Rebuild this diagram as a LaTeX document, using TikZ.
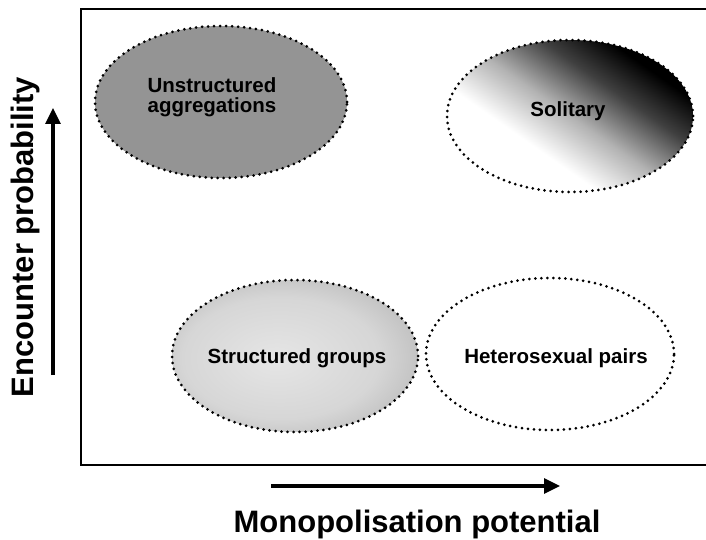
\documentclass[tikz,border=0pt]{standalone}
\usepackage{fontspec}
\setmainfont{Liberation Sans}
\usetikzlibrary{shapes.geometric,arrows.meta}
\pgfdeclarehorizontalshading{solshade}{100bp}{color(0bp)=(white); color(38bp)=(white); color(50bp)=(black!30); color(62bp)=(black!75); color(72bp)=(black); color(100bp)=(black)}
\pgfdeclareradialshading{sgshade}{\pgfpoint{-4bp}{-1bp}}{color(0bp)=(black!10); color(20bp)=(black!16); color(30bp)=(black!26); color(40bp)=(black!45); color(50bp)=(black!62); color(70bp)=(black!65)}
\tikzset{
  blob/.style={ellipse, inner sep=0pt, minimum width=246pt, minimum height=152pt,
    draw=black, line width=3pt, dash pattern=on 0pt off 6pt, line cap=round},
  blobtext/.style={font=\bfseries\fontsize{20.5}{20}\selectfont, inner sep=0pt, align=center},
  axisline/.style={line width=2pt, line cap=rect},
  bigarrow/.style={line width=3.2pt, -{Triangle[length=16pt,width=15pt]}},
  axislabel/.style={font=\bfseries\fontsize{31}{31}\selectfont, inner sep=0pt}
}
\begin{document}
\begin{tikzpicture}[x=1pt,y=-1pt]
\useasboundingbox (0,0) rectangle (706,540);
\fill[white] (0,0) rectangle (706,540);
% axes frame
\coordinate (tr) at (706,9);
\coordinate (tl) at (81,9);
\coordinate (bl) at (81,465);
\coordinate (br) at (706,465);
\draw[axisline] (tr) -- (tl) -- (bl) -- (br);
% ellipses
\node[blob, fill=black!42, minimum width=252pt, minimum height=152pt] (ua) at (221,102) {};
\node[blob, shade, shading=solshade, shading angle=55] (sol) at (570,116) {};
\node[blob, shade, shading=sgshade] (sg) at (295,356) {};
\node[blob, fill=white, minimum width=248pt] (hp) at (550,354) {};
% texts
\node[blobtext] (uat) at (212,97) {Unstructured\\aggregations};
\node[blobtext, anchor=base] (solt) at (568,117) {Solitary};
\node[blobtext, anchor=base] (sgt) at (297,363) {Structured groups};
\node[blobtext, anchor=base] (hpt) at (556,363) {Heterosexual pairs};
% axis arrows
\coordinate (va) at (53,375);
\coordinate (vb) at (53,108);
\draw[bigarrow] (va) -- (vb);
\coordinate (ha) at (271,486);
\coordinate (hb) at (560,486);
\draw[bigarrow] (ha) -- (hb);
% axis labels
\node[axislabel, anchor=base, rotate=90] (ylab) at (33,237) {Encounter probability};
\node[axislabel, anchor=base] (xlab) at (417,532) {Monopolisation potential};
\end{tikzpicture}
\end{document}
